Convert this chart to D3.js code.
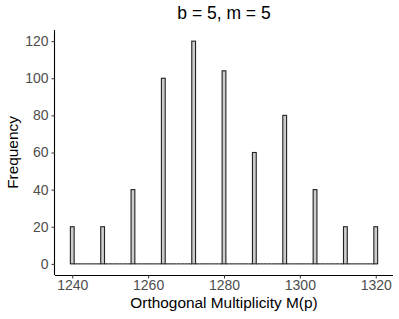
<!DOCTYPE html>
<html><head><meta charset="utf-8">
<script src="https://cdn.jsdelivr.net/npm/d3@7"></script>
<style>body{margin:0;background:#fff}svg{display:block;font-family:"Liberation Sans",Arial,sans-serif}</style>
</head><body>
<script>
const values = [1240,1248,1256,1264,1272,1280,1288,1296,1304,1312,1320];
const counts = [20,20,40,100,120,104,60,80,40,20,20];
const xTicks = [1240,1260,1280,1300,1320];
const yTicks = [0,20,40,60,80,100,120];
const title = "b = 5, m = 5";
const xTitle = "Orthogonal Multiplicity M(p)";
const yTitle = "Frequency";

const W=399,H=319;
const L=55,R=393,T=30,B=275;
const svg=d3.select("body").append("svg").attr("width",W).attr("height",H);

// bins of width 1 from 1240 to 1320
const bins=[];
for(let v=values[0]; v<=values[values.length-1]; v++){
  const i=values.indexOf(v);
  bins.push({x0:v-0.5,x1:v+0.5,c:i>=0?counts[i]:0});
}
const xmin=bins[0].x0, xmax=bins[bins.length-1].x1, xr=xmax-xmin;
const x=d3.scaleLinear().domain([xmin-0.05*xr,xmax+0.05*xr]).range([L,R]);
const ymaxv=d3.max(counts);
const y=d3.scaleLinear().domain([-0.05*ymaxv,ymaxv*1.05]).range([B,T]);

// zero-height bins drawn as outline lines
svg.append("g").selectAll("line").data(bins.filter(d=>d.c===0)).join("line")
  .attr("x1",d=>x(d.x0)).attr("x2",d=>x(d.x1))
  .attr("y1",y(0)).attr("y2",y(0))
  .attr("stroke","#222").attr("stroke-width",1.1);
svg.append("g").selectAll("rect").data(bins.filter(d=>d.c>0)).join("rect")
  .attr("x",d=>x(d.x0)).attr("width",d=>x(d.x1)-x(d.x0))
  .attr("y",d=>y(d.c)).attr("height",d=>y(0)-y(d.c))
  .attr("fill","#cccccc").attr("stroke","#222").attr("stroke-width",1.1);

const xa=svg.append("g").attr("transform",`translate(0,${B})`)
  .call(d3.axisBottom(x).tickValues(xTicks).tickSize(3.5).tickPadding(2).tickFormat(d3.format("d")));
const ya=svg.append("g").attr("transform",`translate(${L},0)`)
  .call(d3.axisLeft(y).tickValues(yTicks).tickSize(3.5).tickPadding(3));
[xa,ya].forEach(a=>{
  a.select(".domain").attr("stroke","#000").attr("stroke-width",1.1);
  a.selectAll(".tick line").attr("stroke","#333");
  a.selectAll(".tick text").attr("fill","#4d4d4d").style("font-size","14px");
});
xa.select(".domain").attr("d",`M${L},0.5H${R}`);
ya.select(".domain").attr("d",`M-0.5,${T}V${B}`);

svg.append("text").attr("x",(L+R)/2).attr("y",19).attr("text-anchor","middle")
  .style("font-size","17.5px").text(title);
svg.append("text").attr("x",(L+R)/2).attr("y",308).attr("text-anchor","middle")
  .style("font-size","15.4px").text(xTitle);
svg.append("text").attr("transform",`translate(18,${(T+B)/2}) rotate(-90)`).attr("text-anchor","middle")
  .style("font-size","15.4px").text(yTitle);
</script>
</body></html>
